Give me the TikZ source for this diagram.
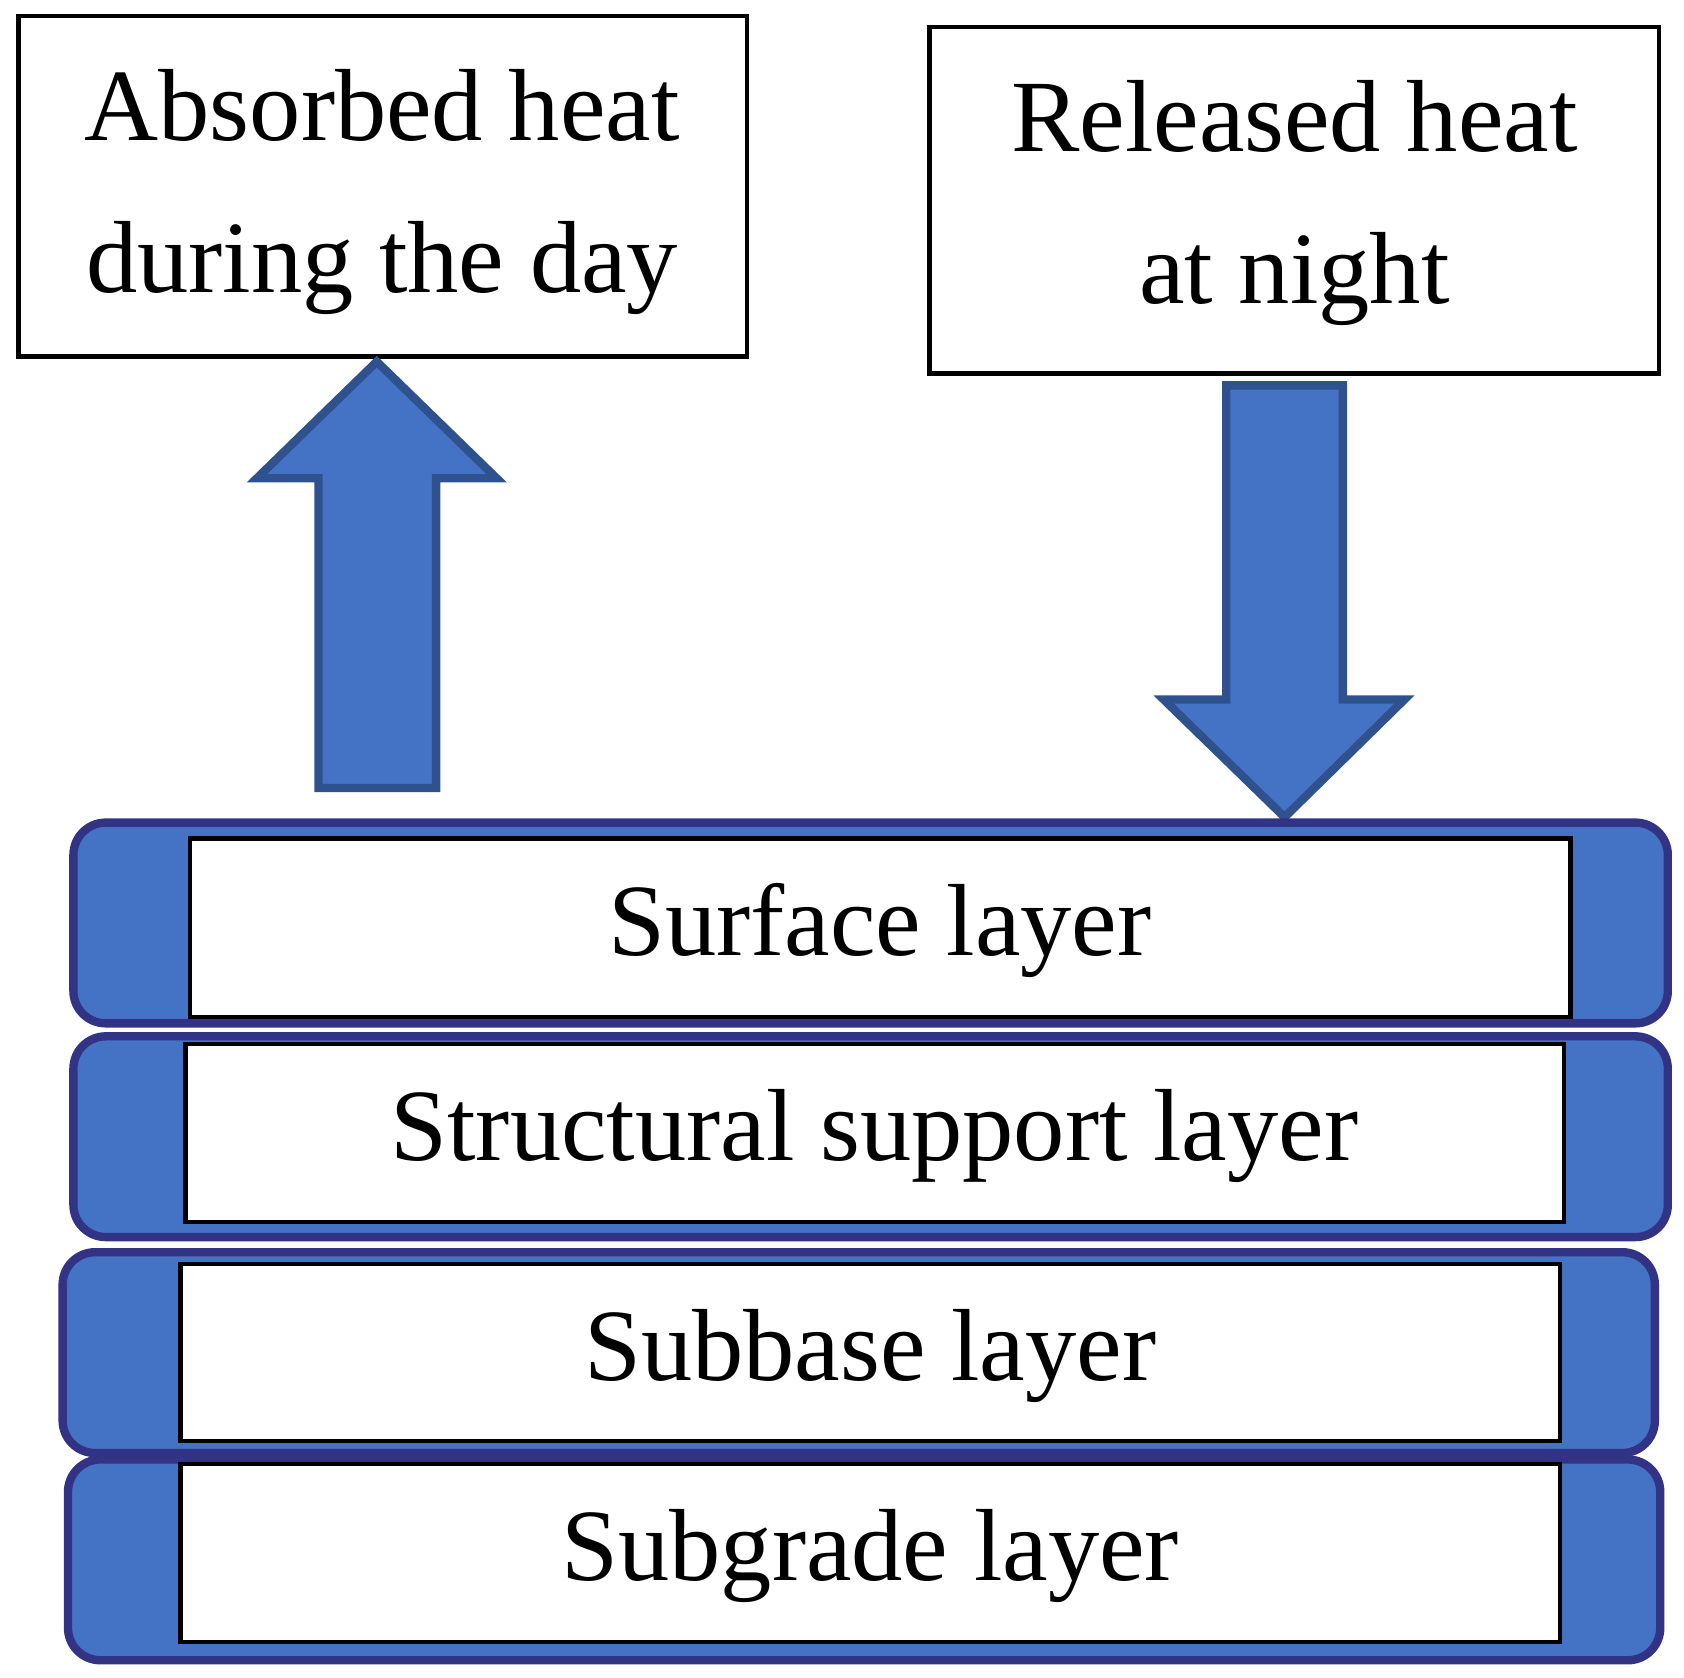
\documentclass[tikz,border=0pt]{standalone}
\usepackage{fontspec}
\setmainfont{Liberation Serif}
\begin{document}
\begin{tikzpicture}[x=0.01cm,y=-0.01cm,
 box/.style={draw=black,line width=1.2pt,fill=white},
 lay/.style={draw=blue!40!black!80,line width=2.2pt,fill={rgb,255:red,68;green,114;blue,196},rounded corners=0.3cm},
 arr/.style={draw={rgb,255:red,47;green,82;blue,143},line width=2.2pt,fill={rgb,255:red,68;green,114;blue,196}},
 t/.style={font=\fontsize{27}{40}\selectfont,align=center}]
\useasboundingbox (0,0) rectangle (1560,1554);
\draw[box] (17,15) rectangle (692,330);
\node[t] (a) at (354,178) {Absorbed heat\\during the day};
\draw[box] (861,25) rectangle (1537,346);
\node[t] (r) at (1199,188) {Released heat\\at night};
\draw[arr] (295,730) -- (295,443) -- (238,443) -- (349,335) -- (460,443) -- (404,443) -- (404,730) -- cycle;
\draw[arr] (1136,357) -- (1244,357) -- (1244,648) -- (1301,648) -- (1190,757) -- (1078,648) -- (1136,648) -- cycle;
\draw[lay] (68,762) rectangle (1545,948);
\draw[box] (176,777) rectangle (1455,942);
\node[t] (l1) at (815,862) {Surface layer};
\draw[lay] (68,960) rectangle (1545,1146);
\draw[box] (172,967) rectangle (1449,1132);
\node[t] (l2) at (810,1052) {Structural support layer};
\draw[lay] (58,1160) rectangle (1533,1346);
\draw[box] (167,1171) rectangle (1445,1335);
\node[t] (l3) at (806,1256) {Subbase layer};
\draw[lay] (63,1352) rectangle (1538,1538);
\draw[box] (167,1356) rectangle (1445,1521);
\node[t] (l4) at (806,1441) {Subgrade layer};
\end{tikzpicture}
\end{document}
